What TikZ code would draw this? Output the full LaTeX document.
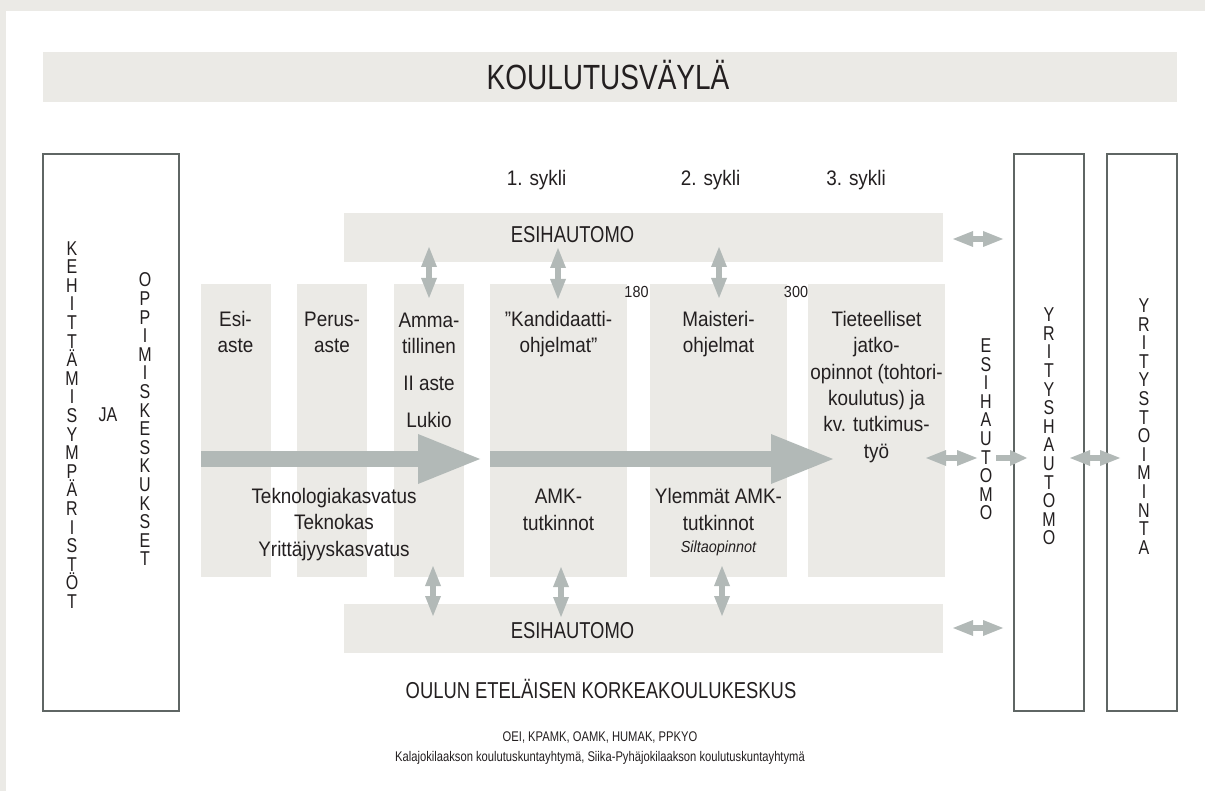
\documentclass[tikz,border=0pt]{standalone}
\usepackage{fontspec}
\setmainfont{Liberation Sans}
\newfontfamily\fA{Liberation Sans}[FakeStretch=0.8]
\newfontfamily\fB{Liberation Sans}[FakeStretch=0.9]
\usetikzlibrary{arrows.meta}
\definecolor{bandgray}{HTML}{EBEAE6}
\definecolor{arrowgray}{HTML}{B2B9B7}
\definecolor{boxline}{HTML}{5F6664}
\definecolor{ink}{HTML}{231F20}
\tikzset{
  every node/.style={inner sep=0pt, outer sep=0pt, text=ink},
  band/.style={fill=bandgray, draw=none, anchor=north west},
  outbox/.style={draw=boxline, line width=2pt, fill=white, anchor=north west},
  vword/.style={align=center, font=\fA\fontsize{20}{18.6}\selectfont},
  coltext/.style={align=center, anchor=base, font=\fB\fontsize{21}{26.3}\selectfont},
  bigarrow/.style={draw=arrowgray, line width=16pt, -{Triangle[length=62pt,width=50pt,line width=0pt]}},
  dblarrow/.style={draw=arrowgray, line width=5.5pt, {Triangle[length=20pt,width=16pt,line width=0pt]}-{Triangle[length=20pt,width=16pt,line width=0pt]}},
  sglarrow/.style={draw=arrowgray, line width=5.5pt, -{Triangle[length=17pt,width=16pt,line width=0pt]}}
}
\begin{document}
\begin{tikzpicture}[x=1pt,y=-1pt]
\useasboundingbox (0,0) rectangle (1205,791);
% background frame
\fill[bandgray] (0,0) rectangle (1205,791);
\fill[white] (6,11) rectangle (1205,791);
% title band
\node[band, minimum width=1134pt, minimum height=50pt] (titleband) at (43,52) {};
\node[anchor=base, font=\fA\fontsize{35}{40}\selectfont] (title) at (608,90) {KOULUTUSVÄYLÄ};
% outer boxes
\node[outbox, minimum width=136pt, minimum height=557pt] (leftbox) at (43,154) {};
\node[outbox, minimum width=70pt, minimum height=557pt] (yhbox) at (1014,154) {};
\node[outbox, minimum width=70pt, minimum height=557pt] (ytbox) at (1107,154) {};
% vertical words
\node[vword] (keh) at (72,425) {K\\E\\H\\I\\T\\T\\Ä\\M\\I\\S\\Y\\M\\P\\Ä\\R\\I\\S\\T\\Ö\\T};
\node[vword] (opp) at (145,419.5) {O\\P\\P\\I\\M\\I\\S\\K\\E\\S\\K\\U\\K\\S\\E\\T};
\node[font=\fA\fontsize{20}{24}\selectfont] (ja) at (108,415) {JA};
\node[vword] (esiv) at (986,429.5) {E\\S\\I\\H\\A\\U\\T\\O\\M\\O};
\node[vword] (yh) at (1049,426.5) {Y\\R\\I\\T\\Y\\S\\H\\A\\U\\T\\O\\M\\O};
\node[vword] (yt) at (1144,426.5) {Y\\R\\I\\T\\Y\\S\\T\\O\\I\\M\\I\\N\\T\\A};
% cycle labels
\node[anchor=base, font=\fB\fontsize{21}{26}\selectfont] (s1) at (536.5,186) {1. sykli};
\node[anchor=base, font=\fB\fontsize{21}{26}\selectfont] (s2) at (710.5,186) {2. sykli};
\node[anchor=base, font=\fB\fontsize{21}{26}\selectfont] (s3) at (856,186) {3. sykli};
% bands
\node[band, minimum width=599pt, minimum height=49pt] (esitop) at (344,213) {};
\node[anchor=base, font=\fA\fontsize{23}{28}\selectfont] (esitoptxt) at (572.5,243) {ESIHAUTOMO};
\node[band, minimum width=599pt, minimum height=49pt] (esibot) at (344,604) {};
\node[anchor=base, font=\fA\fontsize{23}{28}\selectfont] (esibottxt) at (572.5,638.5) {ESIHAUTOMO};
% columns
\node[band, minimum width=70pt, minimum height=293pt] (cesi) at (201,284) {};
\node[band, minimum width=70pt, minimum height=293pt] (cperus) at (297,284) {};
\node[band, minimum width=70pt, minimum height=293pt] (camma) at (394,284) {};
\node[band, minimum width=137pt, minimum height=293pt] (ckand) at (490,284) {};
\node[band, minimum width=137pt, minimum height=293pt] (cmais) at (650,284) {};
\node[band, minimum width=137pt, minimum height=293pt] (ctiet) at (808,284) {};
% column texts (anchor = baseline of last line)
\node[coltext] (tesi) at (235.5,353) {Esi-\\aste};
\node[coltext] (tperus) at (332,353) {Perus-\\aste};
\node[coltext] (tamma) at (429,428) {Amma-\\tillinen\\[11pt]II aste\\[11pt]Lukio};
\node[coltext] (tkand) at (558.5,353) {”Kandidaatti-\\ohjelmat”};
\node[coltext] (tmais) at (718.5,353) {Maisteri-\\ohjelmat};
\node[coltext] (ttiet) at (876.5,458) {Tieteelliset\\jatko-\\opinnot (tohtori-\\koulutus) ja\\kv. tutkimus-\\työ};
\node[coltext] (ttekno) at (334,556) {Teknologiakasvatus\\Teknokas\\Yrittäjyyskasvatus};
\node[coltext] (tamk) at (558.5,530) {AMK-\\tutkinnot};
\node[coltext] (tylemmat) at (718.5,530) {Ylemmät AMK-\\tutkinnot};
\node[anchor=base, font=\fB\itshape\fontsize{16}{19}\selectfont] (tsilta) at (718.5,552) {Siltaopinnot};
\node[anchor=base, font=\fB\fontsize{16}{19}\selectfont] (n180) at (636.5,298) {180};
\node[anchor=base, font=\fB\fontsize{16}{19}\selectfont] (n300) at (796,298) {300};
% bottom texts
\node[anchor=base, font=\fA\fontsize{23}{27}\selectfont] (oulun) at (601,698) {OULUN ETELÄISEN KORKEAKOULUKESKUS};
\node[anchor=base, font=\fA\fontsize{14}{17}\selectfont] (oei) at (600,741) {OEI, KPAMK, OAMK, HUMAK, PPKYO};
\node[anchor=base, font=\fA\fontsize{14}{17}\selectfont] (kala) at (600,761) {Kalajokilaakson koulutuskuntayhtymä, Siika-Pyhäjokilaakson koulutuskuntayhtymä};
% big arrows
\coordinate (a1s) at (201,459);
\coordinate (a1e) at (480,459);
\coordinate (a2s) at (490,459);
\coordinate (a2e) at (833,459);
\draw[bigarrow] (a1s) -- (a1e);
\draw[bigarrow] (a2s) -- (a2e);
% vertical double arrows (top)
\draw[dblarrow] (429,247) -- (429,298);
\draw[dblarrow] (558,248) -- (558,299);
\draw[dblarrow] (719,247) -- (719,298);
% vertical double arrows (bottom)
\draw[dblarrow] (433,566) -- (433,616);
\draw[dblarrow] (561,567) -- (561,617);
\draw[dblarrow] (722,566) -- (722,616);
% horizontal arrows right
\draw[dblarrow] (953,239) -- (1003,239);
\draw[dblarrow] (953,628) -- (1003,628);
\draw[dblarrow] (926,458) -- (977,458);
\draw[sglarrow] (996,458) -- (1027,458);
\draw[dblarrow] (1070,458) -- (1120,458);
\end{tikzpicture}
\end{document}
